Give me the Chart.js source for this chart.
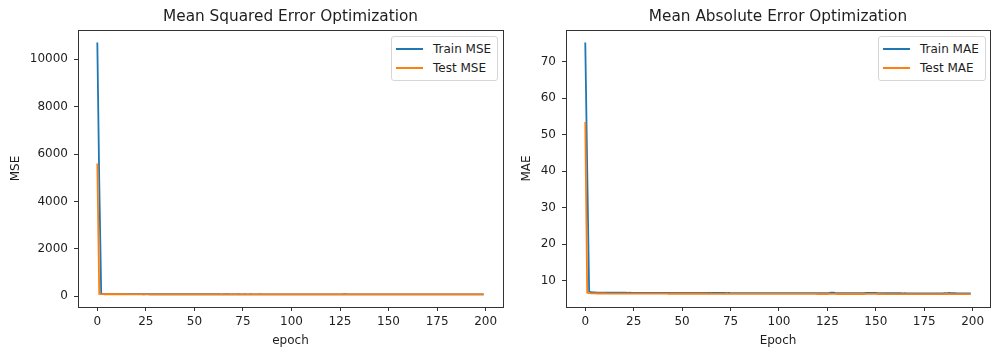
<!DOCTYPE html>
<html>
<head>
<meta charset="utf-8">
<script src="https://cdn.jsdelivr.net/npm/chart.js@4.4.0/dist/chart.umd.min.js"></script>
<style>
  body { margin: 0; background: #fff; font-family: "DejaVu Sans", sans-serif; }
  .wrap { position: absolute; top: 0; height: 352px; }
  .legend { position: absolute; background: #fff; border: 1px solid #d6d6d6; border-radius: 3px;
            padding: 2px 6px 3px 4px; font-size: 12px; color: #1e1e1e; }
  .legend .row { display: flex; align-items: center; height: 19px; }
  .legend .ln { width: 27px; height: 2px; margin-right: 10px; }
</style>
</head>
<body>
<div class="wrap" style="left:0;width:510px">
  <canvas id="mse" width="510" height="352"></canvas>
  <div class="legend" id="legMse" style="left:391px;top:36px"></div>
</div>
<div class="wrap" style="left:510px;width:481px">
  <canvas id="mae" width="481" height="352"></canvas>
  <div class="legend" id="legMae" style="left:368px;top:36px"></div>
</div>
<script>
  // values, one per epoch (0..199)
  var trainMse = [
    10700, 4800, 118, 97, 94, 93, 92, 92, 91, 91,
    91, 90, 90, 90, 90, 90, 89, 89, 90, 89,
    89, 89, 89, 89, 88, 89, 89, 88, 88, 89,
    88, 88, 88, 88, 88, 89, 88, 88, 88, 88,
    88, 88, 87, 88, 88, 88, 87, 88, 87, 88,
    87, 87, 88, 87, 87, 87, 87, 88, 87, 87,
    87, 87, 87, 87, 86, 87, 87, 87, 87, 86,
    87, 86, 87, 87, 86, 86, 87, 86, 86, 87,
    86, 86, 86, 86, 87, 86, 86, 86, 86, 86,
    86, 86, 85, 86, 86, 86, 86, 85, 86, 86,
    86, 85, 86, 85, 86, 85, 85, 86, 85, 85,
    85, 85, 85, 86, 85, 85, 85, 85, 85, 85,
    85, 85, 85, 85, 85, 85, 86, 87, 88, 86,
    85, 85, 85, 84, 85, 85, 85, 84, 85, 85,
    85, 84, 85, 85, 84, 85, 85, 85, 86, 86,
    85, 85, 84, 85, 84, 84, 85, 84, 84, 85,
    84, 84, 84, 85, 84, 84, 84, 84, 84, 85,
    84, 84, 84, 84, 84, 84, 84, 84, 84, 84,
    84, 84, 83, 84, 84, 84, 84, 84, 85, 84,
    84, 83, 84, 84, 83, 84, 84, 83, 84, 84
  ];
  var testMse = [
    5600, 104, 91, 89, 88, 88, 88, 87, 87, 87,
    87, 87, 87, 86, 87, 86, 86, 86, 86, 86,
    86, 86, 86, 86, 86, 85, 86, 86, 85, 86,
    85, 85, 86, 85, 85, 85, 85, 85, 85, 85,
    85, 85, 85, 85, 85, 84, 85, 85, 84, 85,
    84, 85, 84, 84, 85, 84, 84, 84, 84, 84,
    84, 84, 84, 84, 84, 84, 84, 83, 84, 84,
    84, 83, 84, 84, 83, 84, 83, 84, 83, 84,
    83, 83, 84, 83, 83, 83, 84, 83, 83, 83,
    83, 83, 83, 83, 83, 83, 83, 83, 83, 82,
    83, 83, 83, 82, 83, 83, 82, 83, 82, 83,
    82, 83, 82, 82, 83, 82, 82, 82, 82, 82,
    82, 82, 82, 82, 82, 82, 82, 83, 83, 82,
    82, 82, 82, 82, 81, 82, 82, 82, 82, 81,
    82, 82, 81, 82, 82, 81, 82, 82, 82, 82,
    81, 82, 81, 81, 82, 81, 81, 82, 81, 81,
    81, 81, 81, 81, 82, 81, 81, 81, 81, 81,
    81, 81, 81, 81, 81, 80, 81, 81, 81, 81,
    81, 80, 81, 81, 80, 81, 81, 80, 81, 81,
    80, 81, 80, 81, 80, 80, 81, 80, 80, 80
  ];
  var trainMae = [
    75.3, 40.5, 7.00, 6.80, 6.76, 6.74, 6.72, 6.71, 6.70, 6.70,
    6.69, 6.69, 6.68, 6.68, 6.68, 6.67, 6.67, 6.67, 6.66, 6.66,
    6.66, 6.66, 6.65, 6.66, 6.65, 6.65, 6.65, 6.65, 6.64, 6.65,
    6.64, 6.64, 6.64, 6.64, 6.63, 6.64, 6.63, 6.63, 6.63, 6.63,
    6.63, 6.62, 6.63, 6.62, 6.62, 6.62, 6.62, 6.62, 6.61, 6.62,
    6.61, 6.61, 6.61, 6.61, 6.61, 6.61, 6.60, 6.61, 6.60, 6.60,
    6.60, 6.60, 6.60, 6.60, 6.59, 6.60, 6.59, 6.59, 6.59, 6.59,
    6.59, 6.59, 6.59, 6.58, 6.59, 6.58, 6.58, 6.58, 6.58, 6.58,
    6.58, 6.58, 6.57, 6.58, 6.57, 6.57, 6.57, 6.57, 6.57, 6.57,
    6.57, 6.56, 6.57, 6.56, 6.56, 6.56, 6.56, 6.56, 6.56, 6.56,
    6.56, 6.55, 6.56, 6.55, 6.55, 6.55, 6.55, 6.55, 6.55, 6.55,
    6.55, 6.54, 6.55, 6.54, 6.54, 6.54, 6.54, 6.54, 6.54, 6.54,
    6.54, 6.54, 6.54, 6.55, 6.56, 6.58, 6.62, 6.70, 6.72, 6.64,
    6.58, 6.56, 6.55, 6.54, 6.54, 6.53, 6.53, 6.53, 6.53, 6.53,
    6.53, 6.53, 6.53, 6.54, 6.56, 6.59, 6.62, 6.64, 6.62, 6.60,
    6.63, 6.58, 6.55, 6.53, 6.53, 6.52, 6.52, 6.52, 6.52, 6.52,
    6.52, 6.52, 6.52, 6.52, 6.51, 6.52, 6.51, 6.51, 6.51, 6.51,
    6.51, 6.51, 6.51, 6.51, 6.51, 6.50, 6.51, 6.50, 6.50, 6.50,
    6.50, 6.50, 6.50, 6.50, 6.51, 6.52, 6.55, 6.58, 6.60, 6.57,
    6.54, 6.52, 6.51, 6.50, 6.50, 6.49, 6.49, 6.49, 6.49, 6.49
  ];
  var testMae = [
    53.5, 6.65, 6.55, 6.50, 6.48, 6.47, 6.46, 6.46, 6.45, 6.45,
    6.45, 6.44, 6.44, 6.44, 6.44, 6.43, 6.43, 6.43, 6.43, 6.43,
    6.42, 6.42, 6.42, 6.42, 6.42, 6.42, 6.41, 6.42, 6.41, 6.41,
    6.41, 6.41, 6.41, 6.41, 6.40, 6.41, 6.40, 6.40, 6.40, 6.40,
    6.40, 6.40, 6.40, 6.39, 6.40, 6.39, 6.39, 6.39, 6.39, 6.39,
    6.39, 6.39, 6.39, 6.38, 6.39, 6.38, 6.38, 6.38, 6.38, 6.38,
    6.38, 6.38, 6.38, 6.38, 6.37, 6.38, 6.37, 6.37, 6.37, 6.37,
    6.37, 6.37, 6.37, 6.37, 6.37, 6.36, 6.37, 6.36, 6.36, 6.36,
    6.36, 6.36, 6.36, 6.36, 6.36, 6.36, 6.35, 6.36, 6.35, 6.35,
    6.35, 6.35, 6.35, 6.35, 6.35, 6.35, 6.35, 6.34, 6.35, 6.34,
    6.34, 6.34, 6.34, 6.34, 6.34, 6.34, 6.34, 6.34, 6.33, 6.34,
    6.33, 6.33, 6.33, 6.33, 6.33, 6.33, 6.33, 6.33, 6.33, 6.33,
    6.32, 6.33, 6.32, 6.32, 6.32, 6.32, 6.33, 6.35, 6.36, 6.33,
    6.32, 6.32, 6.32, 6.31, 6.32, 6.31, 6.31, 6.31, 6.31, 6.31,
    6.31, 6.31, 6.31, 6.31, 6.32, 6.33, 6.34, 6.35, 6.34, 6.33,
    6.34, 6.32, 6.31, 6.30, 6.31, 6.30, 6.30, 6.30, 6.30, 6.30,
    6.30, 6.30, 6.30, 6.30, 6.30, 6.29, 6.30, 6.29, 6.29, 6.29,
    6.29, 6.29, 6.29, 6.29, 6.29, 6.29, 6.29, 6.29, 6.28, 6.29,
    6.28, 6.28, 6.28, 6.28, 6.29, 6.30, 6.31, 6.32, 6.32, 6.30,
    6.29, 6.28, 6.28, 6.28, 6.28, 6.27, 6.28, 6.27, 6.27, 6.27
  ];
  var epochTicks = [0, 25, 50, 75, 100, 125, 150, 175, 200];
  var mseTicks = [0, 2000, 4000, 6000, 8000, 10000];
  var maeTicks = [10, 20, 30, 40, 50, 60, 70];

  var blue = '#1f77b4', orange = '#ff7f0e', ink = '#1e1e1e', spine = '#333333';

  function toPoints(arr) {
    return arr.map(function (v, i) { return { x: i, y: v }; });
  }

  // draws the four axes spines like matplotlib
  var frame = {
    id: 'frame',
    afterDraw: function (chart) {
      var a = chart.chartArea, ctx = chart.ctx;
      ctx.save();
      ctx.strokeStyle = spine;
      ctx.lineWidth = 1;
      ctx.strokeRect(Math.round(a.left) + 0.5, Math.round(a.top) + 0.5,
                     Math.round(a.right - a.left), Math.round(a.bottom - a.top));
      ctx.restore();
    }
  };

  function plain(v) { return String(v); }

  function makeChart(id, title, xLabel, yLabel, train, test, trainName, testName, yTicks, yMin, yMax, yAxisW, yTitlePad, padRight) {
    var font = { family: 'DejaVu Sans', size: 12 };
    new Chart(id, {
      type: 'line',
      data: {
        datasets: [
          { label: trainName, data: toPoints(train), borderColor: blue, backgroundColor: blue,
            borderWidth: 1.8, pointRadius: 0, tension: 0, order: 1 },
          { label: testName, data: toPoints(test), borderColor: orange, backgroundColor: orange,
            borderWidth: 1.8, pointRadius: 0, tension: 0, order: 0 }
        ]
      },
      options: {
        responsive: false,
        animation: false,
        layout: { padding: { left: 0, right: padRight, top: 0, bottom: 0 } },
        plugins: {
          legend: { display: false },
          tooltip: { enabled: false },
          title: {
            display: true, text: title, fullSize: false, color: ink,
            font: { family: 'DejaVu Sans', size: 15.3, weight: 'normal' },
            padding: { top: 8, bottom: 3.6 }
          }
        },
        scales: {
          x: {
            type: 'linear', min: -9.95, max: 208.95,
            afterBuildTicks: function (s) { s.ticks = epochTicks.map(function (v) { return { value: v }; }); },
            afterFit: function (s) { s.height = 45; },
            border: { display: false },
            grid: { drawOnChartArea: false, tickLength: 4, color: spine },
            ticks: { color: ink, font: font, padding: 4, maxRotation: 0, autoSkip: false, callback: plain },
            title: { display: true, text: xLabel, color: ink, font: font, padding: { top: 0, bottom: 4 } }
          },
          y: {
            min: yMin, max: yMax,
            afterBuildTicks: function (s) { s.ticks = yTicks.map(function (v) { return { value: v }; }); },
            afterFit: function (s) { s.width = yAxisW; },
            border: { display: false },
            grid: { drawOnChartArea: false, tickLength: 4, color: spine },
            ticks: { color: ink, font: font, padding: 6, autoSkip: false, callback: plain },
            title: { display: true, text: yLabel, color: ink, font: font, padding: { top: yTitlePad, bottom: 0 } }
          }
        }
      },
      plugins: [frame]
    });
  }

  function makeLegend(id, names) {
    var el = document.getElementById(id);
    var colors = [blue, orange];
    names.forEach(function (n, i) {
      var row = document.createElement('div');
      row.className = 'row';
      var ln = document.createElement('span');
      ln.className = 'ln';
      ln.style.background = colors[i];
      row.appendChild(ln);
      row.appendChild(document.createTextNode(n));
      el.appendChild(row);
    });
  }

  makeChart('mse', 'Mean Squared Error Optimization', 'epoch', 'MSE', trainMse, testMse,
            'Train MSE', 'Test MSE', mseTicks, -450, 11230, 78, 8.5, 7);
  makeChart('mae', 'Mean Absolute Error Optimization', 'Epoch', 'MAE', trainMae, testMae,
            'Train MAE', 'Test MAE', maeTicks, 2.75, 78.75, 56, 10, 1);
  makeLegend('legMse', ['Train MSE', 'Test MSE']);
  makeLegend('legMae', ['Train MAE', 'Test MAE']);
</script>
</body>
</html>
